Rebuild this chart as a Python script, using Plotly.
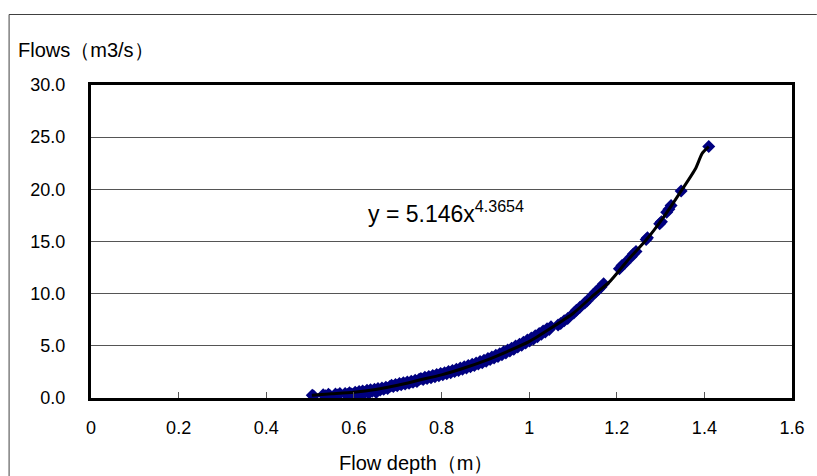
import plotly.graph_objects as go

# Observed data points (flow depth in m, flow in m3/s)
depth = [0.505, 0.508, 0.530, 0.535, 0.542, 0.545, 0.558, 0.563, 0.568, 0.580, 0.585, 0.590, 0.595,
         0.603, 0.607, 0.612, 0.616, 0.620, 0.625, 0.630, 0.634, 0.638, 0.642, 0.647, 0.651, 0.655, 0.660,
         0.664, 0.668, 0.673, 0.677, 0.682, 0.686, 0.690, 0.695, 0.699,
         0.704, 0.708, 0.713, 0.717, 0.722, 0.726, 0.731, 0.735, 0.740, 0.744, 0.749, 0.753, 0.758, 0.762,
         0.767, 0.771, 0.776, 0.780, 0.785, 0.789, 0.794, 0.798,
         0.803, 0.807, 0.812, 0.816, 0.821, 0.825, 0.830, 0.834, 0.839, 0.843, 0.848, 0.852, 0.857, 0.861,
         0.866, 0.870, 0.875, 0.879, 0.884, 0.888, 0.893, 0.897,
         0.902, 0.906, 0.911, 0.915, 0.920, 0.924, 0.929, 0.933, 0.938, 0.942, 0.947, 0.951, 0.956, 0.960,
         0.965, 0.969, 0.974, 0.978, 0.983, 0.987, 0.992, 0.996, 1.001, 1.005, 1.010, 1.014, 1.019, 1.023,
         1.028, 1.032, 1.037, 1.041, 1.046, 1.050,
         1.066, 1.072, 1.080, 1.088, 1.102, 1.108, 1.116, 1.127, 1.132, 1.146, 1.152, 1.158, 1.164, 1.170,
         1.206, 1.212, 1.219, 1.233, 1.238, 1.244, 1.267, 1.270, 1.298, 1.302, 1.314, 1.319, 1.324, 1.347,
         1.410]
flows = [0.26, 0.20, 0.32, 0.22, 0.35, 0.25, 0.38, 0.28, 0.42, 0.44, 0.33, 0.50, 0.38,
         0.55, 0.42, 0.62, 0.35, 0.66, 0.52, 0.74, 0.44, 0.78, 0.64, 0.84, 0.53, 0.90, 0.76,
         0.96, 0.83, 1.04, 0.90, 1.10, 1.22, 1.11, 1.30, 1.18,
         1.38, 1.26, 1.45, 1.33, 1.53, 1.41, 1.61, 1.50, 1.70, 1.58, 1.79, 1.88, 1.77, 1.98,
         1.86, 2.06, 1.95, 2.15, 2.03, 2.25, 2.14, 2.35,
         2.24, 2.43, 2.32, 2.53, 2.42, 2.63, 2.53, 2.75, 2.64, 2.87, 2.76, 2.99, 2.88, 3.11,
         3.00, 3.23, 3.12, 3.36, 3.25, 3.49, 3.38, 3.63,
         3.53, 3.78, 3.68, 3.93, 3.83, 4.09, 3.98, 4.25, 4.15, 4.43, 4.32, 4.60, 4.50, 4.78,
         4.68, 4.98, 4.88, 5.15, 5.06, 5.35, 5.26, 5.55, 5.46, 5.75, 5.66, 5.96, 5.88, 6.18,
         6.10, 6.41, 6.33, 6.63, 6.56, 6.83,
         7.00, 7.15, 7.40, 7.62, 8.15, 8.40, 8.70, 9.10, 9.30, 9.90, 10.15, 10.40, 10.65, 10.95,
         12.40, 12.70, 12.95, 13.55, 13.80, 14.05, 15.20, 15.35, 16.70, 16.90, 17.80, 18.10, 18.45, 19.85,
         24.10]

# Black curve
curve_x = [0.504, 0.55, 0.60, 0.65, 0.70, 0.75, 0.80, 0.85, 0.90, 0.95, 1.00, 1.05, 1.10, 1.15,
           1.184, 1.229, 1.267, 1.305, 1.346, 1.380, 1.395, 1.410]
curve_y = [0.27, 0.40, 0.55, 0.82, 1.22, 1.72, 2.22, 2.85, 3.58, 4.45, 5.40, 6.70, 8.10, 9.95,
           11.15, 13.39, 15.14, 17.22, 19.78, 22.0, 23.45, 24.09]

x_ticks = [0, 0.2, 0.4, 0.6, 0.8, 1.0, 1.2, 1.4, 1.6]
x_tick_text = ["0", "0.2", "0.4", "0.6", "0.8", "1", "1.2", "1.4", "1.6"]
y_ticks = [0, 5, 10, 15, 20, 25, 30]
y_tick_text = ["0.0", "5.0", "10.0", "15.0", "20.0", "25.0", "30.0"]

equation_text = "y\u00a0=\u00a05.146x<sup>4.3654</sup>"
x_title = "Flow depth（m）"
y_title = "Flows（m3/s）"

FONT = "Liberation Sans, Arial, sans-serif"

W, H = 817, 476
ML, MT = 91, 85
PW, PH = 706, 313
MR = W - ML - PW
MB = H - MT - PH

fig = go.Figure()
fig.add_trace(go.Scatter(
    x=depth, y=flows, mode="markers",
    marker=dict(symbol="diamond", size=10, color="#000080", line=dict(width=0)),
    showlegend=False, hoverinfo="x+y"))
fig.add_trace(go.Scatter(
    x=curve_x, y=curve_y, mode="lines",
    line=dict(color="black", width=3, shape="spline", smoothing=0.6),
    showlegend=False, hoverinfo="skip"))

px = lambda fx: (fx - ML) / PW          # figure px -> paper x
py = lambda fy: 1 + (MT - fy) / PH      # figure px -> paper y

fig.update_layout(
    width=W, height=H,
    margin=dict(l=ML, r=MR, t=MT, b=MB),
    paper_bgcolor="white", plot_bgcolor="white",
    font=dict(family=FONT, size=18, color="black"),
    xaxis=dict(range=[0, 1.6], tickvals=x_ticks, ticktext=x_tick_text,
               showgrid=False, zeroline=False,
               showline=True, linecolor="black", linewidth=3, mirror=True,
               ticks="inside", ticklen=6, tickwidth=1, tickcolor="#555555",
               ticklabelstandoff=11, tickfont=dict(size=18)),
    yaxis=dict(range=[0, 30], tickvals=y_ticks, ticktext=y_tick_text,
               showgrid=True, gridcolor="#555555", gridwidth=1, zeroline=False,
               showline=True, linecolor="black", linewidth=3, mirror=True,
               ticks="", ticklabelstandoff=19, tickfont=dict(size=18)),
    annotations=[
        dict(text=equation_text, x=0.628, y=17.8, xref="x", yref="y",
             xanchor="left", yanchor="middle", showarrow=False,
             font=dict(size=23, family=FONT)),
        dict(text=x_title, x=px(419), y=py(463), xref="paper", yref="paper",
             xanchor="center", yanchor="middle", showarrow=False,
             font=dict(size=20, family=FONT)),
        dict(text=y_title, x=px(15), y=py(50), xref="paper", yref="paper",
             xanchor="left", yanchor="middle", showarrow=False,
             font=dict(size=20, family=FONT)),
    ],
    shapes=[
        dict(type="line", xref="paper", yref="paper",
             x0=px(8.5), y0=py(14.5), x1=px(W + 5), y1=py(14.5),
             line=dict(color="#404040", width=1), layer="above"),
        dict(type="line", xref="paper", yref="paper",
             x0=px(8.5), y0=py(14.5), x1=px(8.5), y1=py(H + 5),
             line=dict(color="#404040", width=1), layer="above"),
    ],
)

fig.write_html("out.html",
               config={"displayModeBar": False},
               post_script="document.body.style.margin='0';document.body.style.overflow='hidden';")
